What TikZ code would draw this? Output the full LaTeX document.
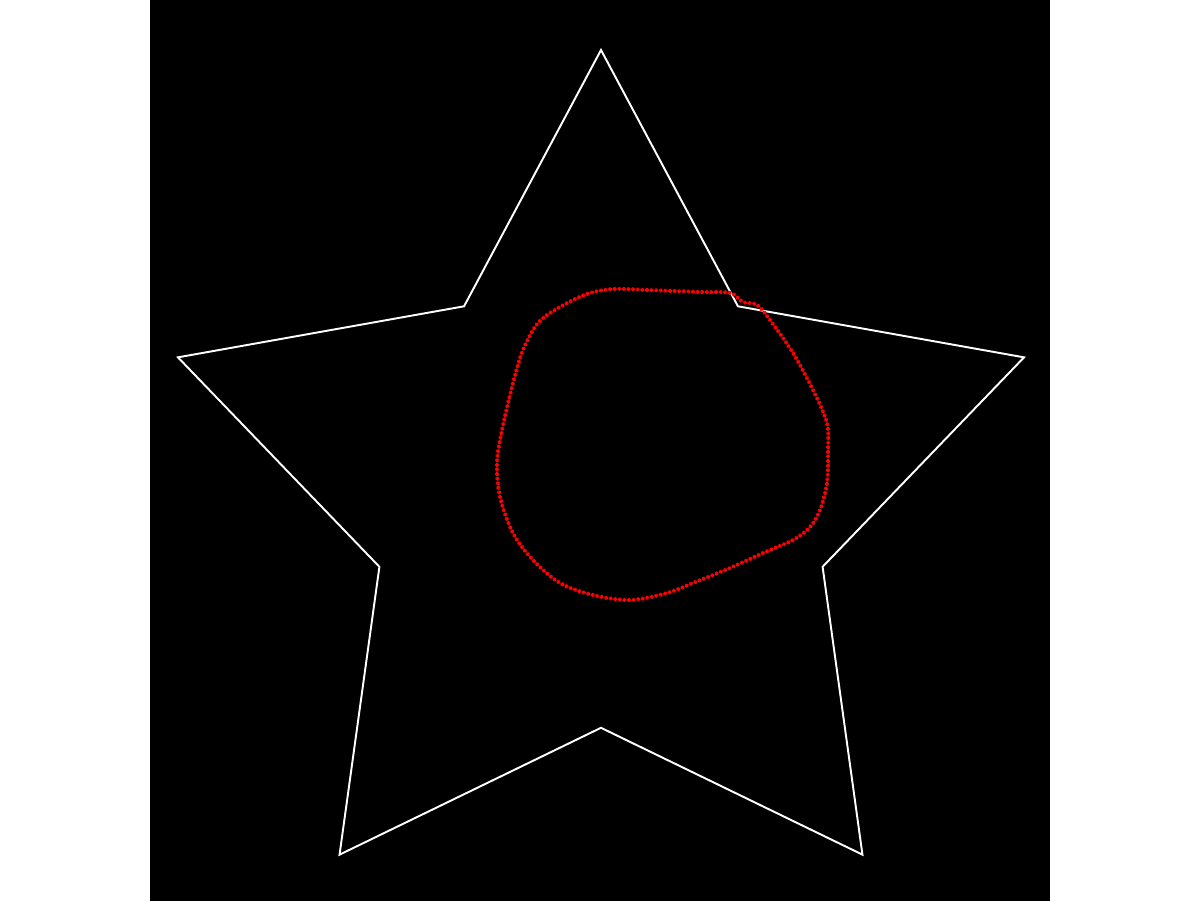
\documentclass[tikz,border=0pt]{standalone}
\usetikzlibrary{decorations.markings}

\begin{document}
\begin{tikzpicture}[
  x=0.02cm, y=-0.02cm,
  canvas/.style={fill=black, draw=none},
  starline/.style={draw=white, line width=1.1pt, line join=miter},
  contour/.style={
    draw=none,
    postaction={decorate},
    decoration={markings,
      mark=between positions 0 and 1 step 4.6*0.02cm with {
        \draw[red, line width=1.1pt] (-1.9,0) -- (1.9,0) (0,-1.9) -- (0,1.9);
      }
    }
  }
]

% Frame
\useasboundingbox (0,0) rectangle (1201,901);
\fill[white] (0,0) rectangle (1201,901);
\path[canvas] (150,0) rectangle (1050,901);

% Star vertices
\foreach \k in {0,...,9} {
  \pgfmathsetmacro{\ang}{90+36*\k}
  \pgfmathsetmacro{\rad}{ifthenelse(mod(\k,2)==0,444.8,233)}
  \coordinate (s\k) at ({601+\rad*cos(\ang)},{494.8-\rad*sin(\ang)});
}
\draw[starline] (s0) -- (s1) -- (s2) -- (s3) -- (s4) -- (s5) -- (s6) -- (s7) -- (s8) -- (s9) -- cycle;

% Red contour
\path[contour] plot[smooth cycle, tension=0.55] coordinates {
  (613,289) (647,290) (700,292) (730,293) (743,302) (757,305) (770,320)
  (793,353) (813,390) (827,423) (828,450) (827,483) (820,510) (810,527)
  (793,540) (763,553) (730,568) (693,583) (667,593) (630,600) (593,595)
  (560,583) (533,560) (513,533) (500,497) (497,463) (502,430) (513,383)
  (523,350) (538,323) (560,307) (587,294)
};

\end{tikzpicture}
\end{document}
